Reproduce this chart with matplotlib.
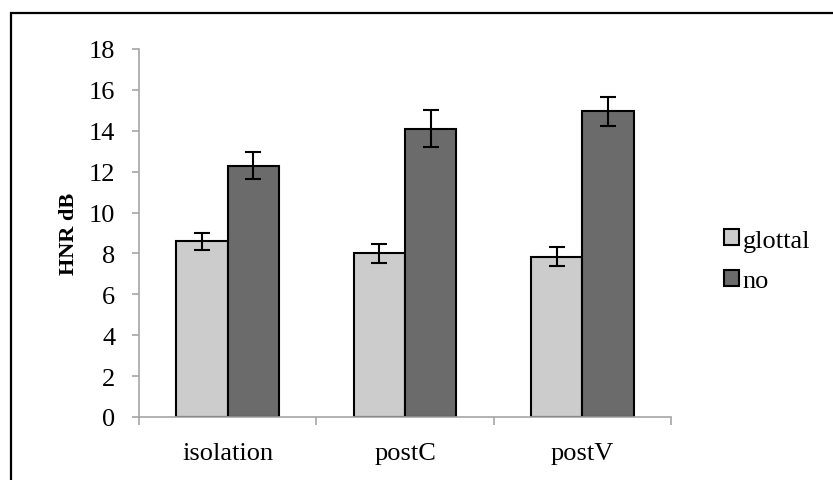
import matplotlib
matplotlib.use("Agg")
import matplotlib.pyplot as plt
import numpy as np
from matplotlib.patches import Rectangle

# data
categories = ["isolation", "postC", "postV"]
glottal = [8.6, 8.0, 7.85]
glottal_err = [0.42, 0.48, 0.48]
no = [12.3, 14.1, 14.95]
no_err = [0.68, 0.9, 0.7]

plt.rcParams["font.family"] = ["Liberation Serif", "DejaVu Serif"]

fig = plt.figure(figsize=(8.33, 4.81), dpi=100)
ax = fig.add_axes([139 / 833, 1 - 418 / 481, 532 / 833, 368 / 481])

x = np.arange(len(categories))
w = 0.29
ax.bar(x - w / 2, glottal, w, color="#cccccc", edgecolor="black", linewidth=1.5,
       label="glottal", zorder=2)
ax.bar(x + w / 2, no, w, color="#6b6b6b", edgecolor="black", linewidth=1.5,
       label="no", zorder=2)
ax.errorbar(x - w / 2, glottal, yerr=glottal_err, fmt="none", ecolor="black",
            elinewidth=1.5, capsize=6, capthick=1.5, zorder=3)
ax.errorbar(x + w / 2, no, yerr=no_err, fmt="none", ecolor="black",
            elinewidth=1.5, capsize=6, capthick=1.5, zorder=3)

ax.set_xlim(-0.5, len(categories) - 0.5)
ax.set_ylim(0, 18)
ax.set_yticks(np.arange(0, 19, 2))
ax.set_xticks(x)
ax.set_xticklabels(categories)
ax.set_xticks(np.arange(-0.5, len(categories)), minor=True)

for side in ["top", "right"]:
    ax.spines[side].set_visible(False)
for side in ["left", "bottom"]:
    ax.spines[side].set_color("#a6a6a6")
    ax.spines[side].set_linewidth(1.2)

ax.tick_params(axis="y", direction="out", length=5, width=1.2, color="#a6a6a6",
               labelsize=19, pad=12)
ax.tick_params(axis="x", which="major", length=0, labelsize=19, pad=18)
ax.tick_params(axis="x", which="minor", direction="out", length=6, width=1.2,
               color="#a6a6a6")

ax.set_ylabel("HNR dB", fontsize=16, fontweight="bold", labelpad=7)

ax.legend(loc="center left", bbox_to_anchor=(1.08, 0.424), frameon=False,
          fontsize=19, handlelength=0.55, handleheight=0.55, handletextpad=0.15,
          labelspacing=0.7, borderaxespad=0)

# outer chart frame (cropped at right and bottom)
fig.patches.append(Rectangle((11 / 833, -0.1), 1.2, 1 - 14 / 481 + 0.1,
                             transform=fig.transFigure, fill=False,
                             edgecolor="black", linewidth=1.6))

fig.savefig("out.png", dpi=100)
